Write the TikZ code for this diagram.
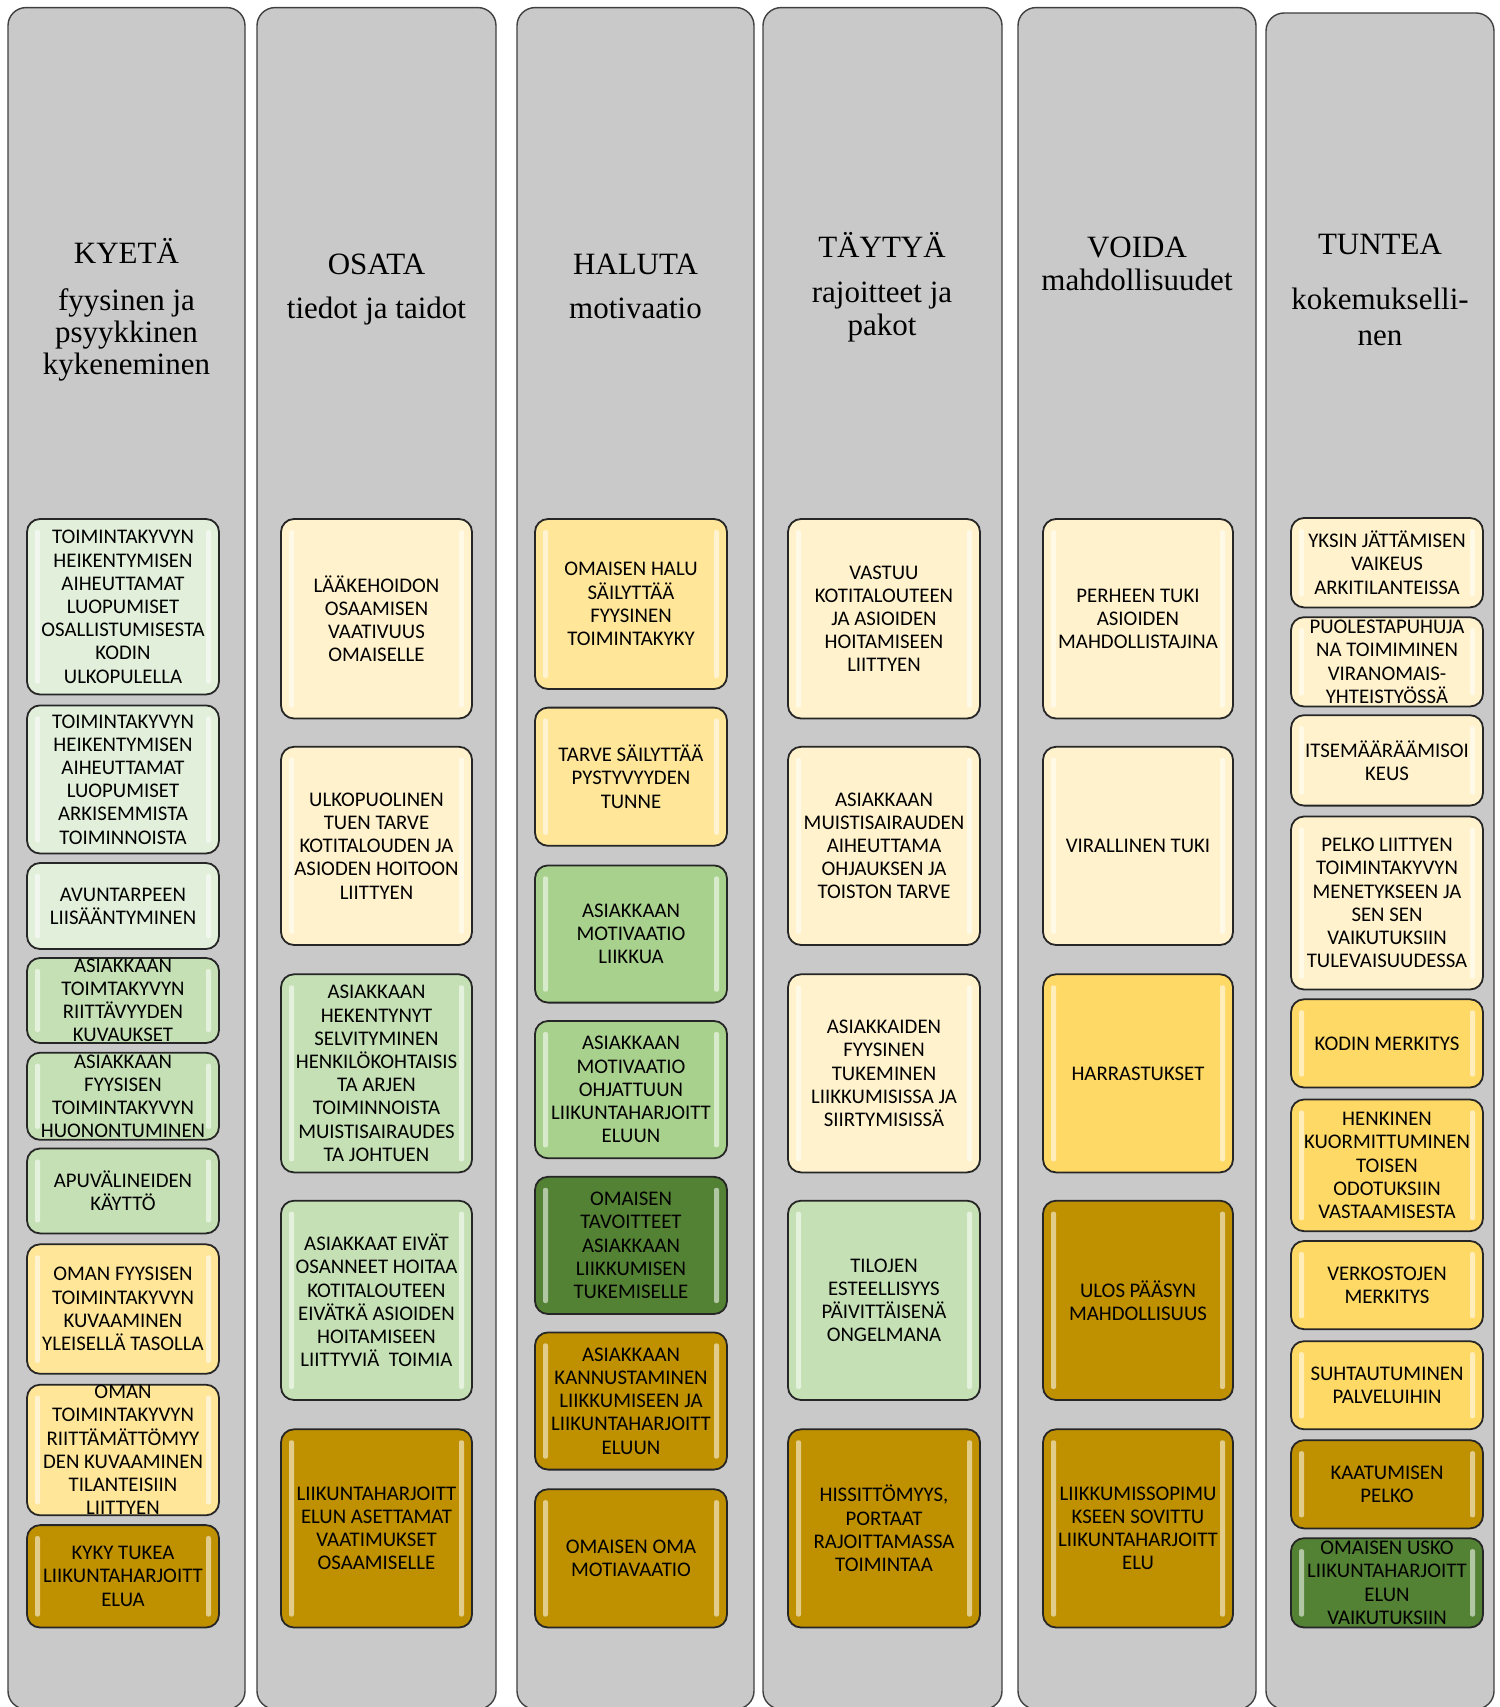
\documentclass[tikz,border=0pt]{standalone}
\usepackage{fontspec}
\setmainfont{Liberation Serif}
\newfontfamily\carlito{Carlito}
\usetikzlibrary{positioning}

\definecolor{harmaa}{HTML}{C9C9C9}
\definecolor{vaalvihr}{HTML}{E2EFDA}
\definecolor{vihr}{HTML}{C5E0B4}
\definecolor{vihr2}{HTML}{A9D18E}
\definecolor{tummavihr}{HTML}{548235}
\definecolor{kerma}{HTML}{FFF2CC}
\definecolor{keltainen}{HTML}{FFE699}
\definecolor{kulta}{HTML}{FFD966}
\definecolor{tummakulta}{HTML}{BF9000}

\begin{document}
\begin{tikzpicture}[x=0.5pt,y=-0.5pt,
  sarake/.style={draw=black!75, line width=0.7pt, fill=harmaa, rounded corners=9pt},
  kortti/.style={draw=black!85, line width=0.9pt, fill=#1, rounded corners=6.5pt,
    path picture={
      \fill[white, opacity=0.55, rounded corners=1pt] ([xshift=4pt,yshift=-5.5pt]path picture bounding box.north west) rectangle ([xshift=6.5pt,yshift=5.5pt]path picture bounding box.south west);
      \fill[white, opacity=0.55, rounded corners=1pt] ([xshift=-6.5pt,yshift=-5.5pt]path picture bounding box.north east) rectangle ([xshift=-4pt,yshift=5.5pt]path picture bounding box.south east);
    }},
  teksti/.style={font=\carlito\fontsize{10.4pt}{11.6pt}\selectfont, align=center, inner sep=0pt},
  otsikko/.style={font=\fontsize{15.5pt}{16pt}\selectfont, align=center, anchor=base, inner sep=0pt}]

\useasboundingbox (0,0) rectangle (1499,1707);

% sarakkeet
\draw[sarake] (8,7.6) rectangle (245,1709);
\draw[sarake] (257,7.6) rectangle (496,1709);
\draw[sarake] (517,7.6) rectangle (754,1709);
\draw[sarake] (763,7.6) rectangle (1002,1709);
\draw[sarake] (1018,7.6) rectangle (1256,1709);
\draw[sarake] (1266,13) rectangle (1494,1709);

% otsikot (base = viimeisen rivin perusviiva)
\node[otsikko] (kyeta) at (126.5,374) {KYETÄ\\[7.5pt] fyysinen ja\\ psyykkinen\\ kykeneminen};
\node[otsikko] (osata) at (376.5,318) {OSATA\\[6pt] tiedot ja taidot};
\node[otsikko] (haluta) at (635.5,318) {HALUTA\\[6pt] motivaatio};
\node[otsikko] (taytya) at (882,335) {TÄYTYÄ\\[6.5pt] rajoitteet ja\\[0.5pt] pakot};
\node[otsikko] (voida) at (1137,290) {VOIDA\\[0.5pt] mahdollisuudet};
\node[otsikko] (tuntea) at (1380,345) {TUNTEA\\[11.5pt] kokemukselli-\\[2pt] nen};

% KYETA
\draw[kortti=vaalvihr] (27,519) rectangle (219,694.5);
\node[teksti] (k1) at (123,606.8) {TOIMINTAKYVYN\\HEIKENTYMISEN\\AIHEUTTAMAT\\LUOPUMISET\\OSALLISTUMISESTA\\KODIN\\ULKOPULELLA};
\draw[kortti=vaalvihr] (27,705.4) rectangle (219,853.5);
\node[teksti] (k2) at (123,779.5) {TOIMINTAKYVYN\\HEIKENTYMISEN\\AIHEUTTAMAT\\LUOPUMISET\\ARKISEMMISTA\\TOIMINNOISTA};
\draw[kortti=vaalvihr] (27,863) rectangle (219,949);
\node[teksti] (k3) at (123,906) {AVUNTARPEEN\\LIISÄÄNTYMINEN};
\draw[kortti=vihr] (27,958) rectangle (219,1043);
\node[teksti] (k4) at (123,1000.5) {ASIAKKAAN\\TOIMTAKYVYN\\RIITTÄVYYDEN\\KUVAUKSET};
\draw[kortti=vihr] (27,1052.7) rectangle (219,1139.8);
\node[teksti] (k5) at (123,1096.3) {ASIAKKAAN\\FYYSISEN\\TOIMINTAKYVYN\\HUONONTUMINEN};
\draw[kortti=vihr] (27,1148.5) rectangle (219,1233.4);
\node[teksti] (k6) at (123,1191) {APUVÄLINEIDEN\\KÄYTTÖ};
\draw[kortti=keltainen] (27,1244.3) rectangle (219,1373.8);
\node[teksti] (k7) at (123,1309) {OMAN FYYSISEN\\TOIMINTAKYVYN\\KUVAAMINEN\\YLEISELLÄ TASOLLA};
\draw[kortti=keltainen] (27,1384.7) rectangle (219,1515.3);
\node[teksti] (k8) at (123,1450) {OMAN\\TOIMINTAKYVYN\\RIITTÄMÄTTÖMYY\\DEN KUVAAMINEN\\TILANTEISIIN\\LIITTYEN};
\draw[kortti=tummakulta] (27,1525.1) rectangle (219,1627.5);
\node[teksti] (k9) at (123,1576.3) {KYKY TUKEA\\LIIKUNTAHARJOITT\\ELUA};

% OSATA
\draw[kortti=kerma] (281,519) rectangle (472,718.5);
\node[teksti] (o1) at (376.5,618.8) {LÄÄKEHOIDON\\OSAAMISEN\\VAATIVUUS\\OMAISELLE};
\draw[kortti=kerma] (281,746.8) rectangle (472,945);
\node[teksti] (o2) at (376.5,845.9) {ULKOPUOLINEN\\TUEN TARVE\\KOTITALOUDEN JA\\ASIODEN HOITOON\\LIITTYEN};
\draw[kortti=vihr] (281,974.3) rectangle (472,1172.4);
\node[teksti] (o3) at (376.5,1073.4) {ASIAKKAAN\\HEKENTYNYT\\SELVITYMINEN\\HENKILÖKOHTAISIS\\TA ARJEN\\TOIMINNOISTA\\MUISTISAIRAUDES\\TA JOHTUEN};
\draw[kortti=vihr] (281,1200.7) rectangle (472,1400);
\node[teksti] (o4) at (376.5,1300.4) {ASIAKKAAT EIVÄT\\OSANNEET HOITAA\\KOTITALOUTEEN\\EIVÄTKÄ ASIOIDEN\\HOITAMISEEN\\LIITTYVIÄ \ TOIMIA};
\draw[kortti=tummakulta] (281,1429.3) rectangle (472,1627.5);
\node[teksti] (o5) at (376.5,1528.4) {LIIKUNTAHARJOITT\\ELUN ASETTAMAT\\VAATIMUKSET\\OSAAMISELLE};

% HALUTA
\draw[kortti=keltainen] (535,519) rectangle (727,689);
\node[teksti] (h1) at (631,604) {OMAISEN HALU\\SÄILYTTÄÄ\\FYYSINEN\\TOIMINTAKYKY};
\draw[kortti=keltainen] (535,707.6) rectangle (727,845.8);
\node[teksti] (h2) at (631,776.7) {TARVE SÄILYTTÄÄ\\PYSTYVYYDEN\\TUNNE};
\draw[kortti=vihr2] (535,865.4) rectangle (727,1002.6);
\node[teksti] (h3) at (631,934) {ASIAKKAAN\\MOTIVAATIO\\LIIKKUA};
\draw[kortti=vihr2] (535,1021) rectangle (727,1158.3);
\node[teksti] (h4) at (631,1089.7) {ASIAKKAAN\\MOTIVAATIO\\OHJATTUUN\\LIIKUNTAHARJOITT\\ELUUN};
\draw[kortti=tummavihr] (535,1176.8) rectangle (727,1314);
\node[teksti] (h5) at (631,1245.4) {OMAISEN\\TAVOITTEET\\ASIAKKAAN\\LIIKKUMISEN\\TUKEMISELLE};
\draw[kortti=tummakulta] (535,1332.4) rectangle (727,1469.6);
\node[teksti] (h6) at (631,1401) {ASIAKKAAN\\KANNUSTAMINEN\\LIIKKUMISEEN JA\\LIIKUNTAHARJOITT\\ELUUN};
\draw[kortti=tummakulta] (535,1489.2) rectangle (727,1627.5);
\node[teksti] (h7) at (631,1558.3) {OMAISEN OMA\\MOTIAVAATIO};

% TAYTYA
\draw[kortti=kerma] (788,519) rectangle (980,718.5);
\node[teksti] (t1) at (884,618.8) {VASTUU\\KOTITALOUTEEN\\JA ASIOIDEN\\HOITAMISEEN\\LIITTYEN};
\draw[kortti=kerma] (788,746.8) rectangle (980,945);
\node[teksti] (t2) at (884,845.9) {ASIAKKAAN\\MUISTISAIRAUDEN\\AIHEUTTAMA\\OHJAUKSEN JA\\TOISTON TARVE};
\draw[kortti=kerma] (788,974.3) rectangle (980,1172.4);
\node[teksti] (t3) at (884,1073.4) {ASIAKKAIDEN\\FYYSINEN\\TUKEMINEN\\LIIKKUMISISSA JA\\SIIRTYMISISSÄ};
\draw[kortti=vihr] (788,1200.7) rectangle (980,1400);
\node[teksti] (t4) at (884,1300.4) {TILOJEN\\ESTEELLISYYS\\PÄIVITTÄISENÄ\\ONGELMANA};
\draw[kortti=tummakulta] (788,1429.3) rectangle (980,1627.5);
\node[teksti] (t5) at (884,1528.4) {HISSITTÖMYYS,\\PORTAAT\\RAJOITTAMASSA\\TOIMINTAA};

% VOIDA
\draw[kortti=kerma] (1043,519) rectangle (1233,718.5);
\node[teksti] (v1) at (1138,618.8) {PERHEEN TUKI\\ASIOIDEN\\MAHDOLLISTAJINA};
\draw[kortti=kerma] (1043,746.8) rectangle (1233,945);
\node[teksti] (v2) at (1138,845.9) {VIRALLINEN TUKI};
\draw[kortti=kulta] (1043,974.3) rectangle (1233,1172.4);
\node[teksti] (v3) at (1138,1073.4) {HARRASTUKSET};
\draw[kortti=tummakulta] (1043,1200.7) rectangle (1233,1400);
\node[teksti] (v4) at (1138,1300.4) {ULOS PÄÄSYN\\MAHDOLLISUUS};
\draw[kortti=tummakulta] (1043,1429.3) rectangle (1233,1627.5);
\node[teksti] (v5) at (1138,1528.4) {LIIKKUMISSOPIMU\\KSEEN SOVITTU\\LIIKUNTAHARJOITT\\ELU};

% TUNTEA
\draw[kortti=kerma] (1291,518) rectangle (1483,607.4);
\node[teksti] (tu1) at (1387,562.7) {YKSIN JÄTTÄMISEN\\VAIKEUS\\ARKITILANTEISSA};
\draw[kortti=kerma] (1291,617.2) rectangle (1483,706.5);
\node[teksti] (tu2) at (1387,661.9) {PUOLESTAPUHUJA\\NA TOIMIMINEN\\VIRANOMAIS-\\YHTEISTYÖSSÄ};
\draw[kortti=kerma] (1291,715.2) rectangle (1483,805.6);
\node[teksti] (tu3) at (1387,760.4) {ITSEMÄÄRÄÄMISOI\\KEUS};
\draw[kortti=kerma] (1291,816.5) rectangle (1483,989.5);
\node[teksti] (tu4) at (1387,903) {PELKO LIITTYEN\\TOIMINTAKYVYN\\MENETYKSEEN JA\\SEN SEN\\VAIKUTUKSIIN\\TULEVAISUUDESSA};
\draw[kortti=kulta] (1291,999.3) rectangle (1483,1087.5);
\node[teksti] (tu5) at (1387,1043.4) {KODIN MERKITYS};
\draw[kortti=kulta] (1291,1099.5) rectangle (1483,1231.2);
\node[teksti] (tu6) at (1387,1165.4) {HENKINEN\\KUORMITTUMINEN\\TOISEN\\ODOTUKSIIN\\VASTAAMISESTA};
\draw[kortti=kulta] (1291,1241) rectangle (1483,1329.2);
\node[teksti] (tu7) at (1387,1285.1) {VERKOSTOJEN\\MERKITYS};
\draw[kortti=kulta] (1291,1341.2) rectangle (1483,1429.3);
\node[teksti] (tu8) at (1387,1385.3) {SUHTAUTUMINEN\\PALVELUIHIN};
\draw[kortti=tummakulta] (1291,1440.2) rectangle (1483,1528.4);
\node[teksti] (tu9) at (1387,1484.3) {KAATUMISEN\\PELKO};
\draw[kortti=tummavihr] (1291,1538.2) rectangle (1483,1627.5);
\node[teksti] (tu10) at (1387,1582.9) {OMAISEN USKO\\LIIKUNTAHARJOITT\\ELUN\\VAIKUTUKSIIN};

\end{tikzpicture}
\end{document}
